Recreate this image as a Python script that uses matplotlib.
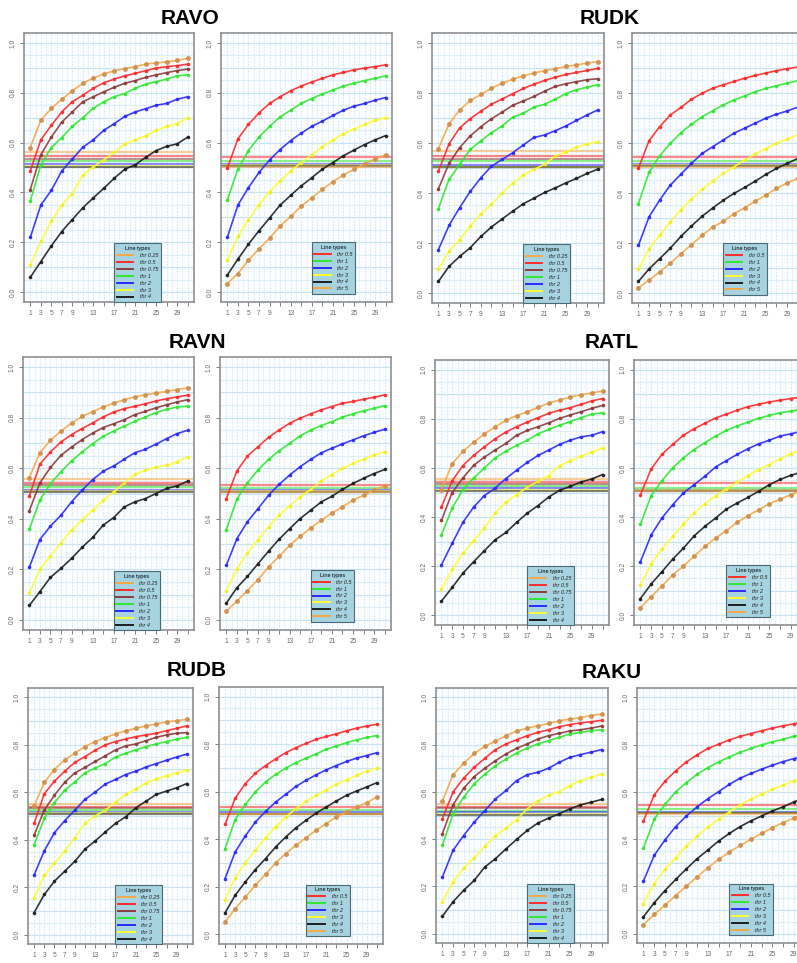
import matplotlib
matplotlib.use("Agg")
import matplotlib.pyplot as plt
from matplotlib.lines import Line2D

plt.rcParams['font.family'] = ['Liberation Sans', 'DejaVu Sans']

W, H = 797, 963

# sampling points (number of cycles)
steps = list(range(1, 32, 2))
tick_text = {1: "1", 3: "3", 5: "5", 7: "7", 9: "9", 13: "13", 17: "17",
             21: "21", 25: "25", 29: "29"}

labels_low = ["thr 0.25", "thr 0.5", "thr 0.75", "thr 1", "thr 2", "thr 3", "thr 4"]
labels_high = ["thr 0.5", "thr 1", "thr 2", "thr 3", "thr 4", "thr 5"]

ORANGE, RED, BROWN = "#f7a845", "#ff2a2a", "#8e3b3b"
GREEN, BLUE, YELLOW, BLACK = "#2fe82f", "#2a2aff", "#ffff30", "#1e1e1e"
colors_low = [ORANGE, RED, BROWN, GREEN, BLUE, YELLOW, BLACK]
colors_high = [RED, GREEN, BLUE, YELLOW, BLACK, ORANGE]

# ---- RAVO ----
ravo_low = [
    [0.58, 0.69, 0.737, 0.774, 0.808, 0.838, 0.859, 0.876, 0.888, 0.897, 0.905, 0.915, 0.92, 0.924, 0.93, 0.938],
    [0.486, 0.611, 0.669, 0.723, 0.764, 0.79, 0.818, 0.84, 0.855, 0.868, 0.878, 0.889, 0.899, 0.905, 0.909, 0.915],
    [0.411, 0.551, 0.622, 0.682, 0.723, 0.764, 0.784, 0.804, 0.822, 0.838, 0.849, 0.862, 0.872, 0.881, 0.889, 0.895],
    [0.365, 0.51, 0.58, 0.62, 0.665, 0.70, 0.737, 0.764, 0.784, 0.797, 0.818, 0.835, 0.845, 0.855, 0.868, 0.872],
    [0.219, 0.349, 0.408, 0.486, 0.534, 0.581, 0.611, 0.649, 0.676, 0.705, 0.723, 0.736, 0.75, 0.757, 0.774, 0.784],
    [0.108, 0.203, 0.284, 0.349, 0.395, 0.47, 0.503, 0.53, 0.561, 0.595, 0.611, 0.628, 0.649, 0.665, 0.676, 0.70],
    [0.059, 0.122, 0.185, 0.243, 0.291, 0.338, 0.378, 0.416, 0.457, 0.493, 0.511, 0.541, 0.568, 0.585, 0.595, 0.622],
]
ravo_low_ref = [0.562, 0.547, 0.535, 0.527, 0.515, 0.506, 0.503]
ravo_high = [
    [0.497, 0.615, 0.673, 0.719, 0.757, 0.784, 0.808, 0.827, 0.843, 0.858, 0.872, 0.882, 0.892, 0.899, 0.905, 0.912],
    [0.37, 0.493, 0.568, 0.622, 0.665, 0.703, 0.73, 0.757, 0.777, 0.795, 0.811, 0.827, 0.838, 0.849, 0.858, 0.868],
    [0.219, 0.349, 0.419, 0.48, 0.53, 0.572, 0.608, 0.638, 0.665, 0.686, 0.709, 0.73, 0.746, 0.757, 0.77, 0.781],
    [0.128, 0.223, 0.29, 0.351, 0.403, 0.446, 0.486, 0.52, 0.551, 0.584, 0.611, 0.635, 0.655, 0.673, 0.689, 0.70],
    [0.068, 0.132, 0.192, 0.246, 0.297, 0.349, 0.388, 0.426, 0.459, 0.493, 0.52, 0.547, 0.57, 0.592, 0.611, 0.628],
    [0.034, 0.074, 0.128, 0.173, 0.216, 0.264, 0.304, 0.345, 0.378, 0.412, 0.443, 0.47, 0.493, 0.514, 0.534, 0.551],
]
ravo_high_ref = [0.543, 0.527, 0.516, 0.511, 0.507, 0.504]

# ---- RUDK ----
rudk_low = [
    [0.576, 0.676, 0.732, 0.77, 0.794, 0.819, 0.839, 0.855, 0.869, 0.88, 0.889, 0.897, 0.906, 0.912, 0.92, 0.925],
    [0.487, 0.596, 0.66, 0.697, 0.727, 0.755, 0.776, 0.797, 0.818, 0.835, 0.85, 0.863, 0.874, 0.882, 0.89, 0.898],
    [0.416, 0.518, 0.581, 0.628, 0.665, 0.697, 0.723, 0.751, 0.768, 0.786, 0.807, 0.826, 0.837, 0.845, 0.853, 0.857],
    [0.337, 0.454, 0.514, 0.574, 0.609, 0.641, 0.668, 0.703, 0.719, 0.743, 0.755, 0.775, 0.797, 0.813, 0.823, 0.833],
    [0.173, 0.27, 0.341, 0.406, 0.461, 0.507, 0.534, 0.561, 0.592, 0.622, 0.632, 0.649, 0.668, 0.69, 0.712, 0.732],
    [0.096, 0.167, 0.213, 0.268, 0.317, 0.355, 0.40, 0.44, 0.471, 0.494, 0.515, 0.547, 0.565, 0.582, 0.596, 0.605],
    [0.046, 0.106, 0.146, 0.181, 0.226, 0.264, 0.296, 0.327, 0.357, 0.379, 0.402, 0.42, 0.44, 0.458, 0.478, 0.495],
]
rudk_low_ref = [0.569, 0.549, 0.537, 0.527, 0.513, 0.505, 0.502]
rudk_high = [
    [0.498, 0.609, 0.665, 0.712, 0.742, 0.775, 0.799, 0.819, 0.833, 0.846, 0.859, 0.87, 0.88, 0.889, 0.897, 0.904],
    [0.357, 0.482, 0.548, 0.598, 0.641, 0.675, 0.705, 0.729, 0.752, 0.772, 0.788, 0.805, 0.818, 0.829, 0.839, 0.849],
    [0.19, 0.304, 0.371, 0.431, 0.475, 0.518, 0.558, 0.585, 0.612, 0.639, 0.659, 0.679, 0.699, 0.715, 0.728, 0.743],
    [0.094, 0.177, 0.23, 0.284, 0.333, 0.375, 0.414, 0.448, 0.478, 0.505, 0.531, 0.556, 0.577, 0.599, 0.616, 0.632],
    [0.046, 0.096, 0.137, 0.179, 0.226, 0.268, 0.307, 0.34, 0.371, 0.398, 0.422, 0.447, 0.474, 0.498, 0.518, 0.538],
    [0.02, 0.052, 0.083, 0.119, 0.157, 0.193, 0.23, 0.264, 0.286, 0.317, 0.341, 0.367, 0.391, 0.418, 0.44, 0.458],
]
rudk_high_ref = [0.545, 0.527, 0.515, 0.51, 0.506, 0.504]

# ---- RAVN ----
ravn_low = [
    [0.563, 0.661, 0.711, 0.747, 0.779, 0.805, 0.824, 0.842, 0.858, 0.871, 0.882, 0.891, 0.897, 0.904, 0.911, 0.918],
    [0.489, 0.616, 0.664, 0.704, 0.733, 0.757, 0.779, 0.803, 0.822, 0.836, 0.845, 0.855, 0.866, 0.875, 0.882, 0.889],
    [0.432, 0.542, 0.603, 0.651, 0.684, 0.713, 0.739, 0.761, 0.776, 0.792, 0.812, 0.825, 0.839, 0.851, 0.862, 0.871],
    [0.358, 0.474, 0.539, 0.586, 0.629, 0.664, 0.697, 0.726, 0.747, 0.766, 0.786, 0.803, 0.82, 0.833, 0.842, 0.845],
    [0.208, 0.318, 0.371, 0.414, 0.467, 0.513, 0.555, 0.588, 0.609, 0.636, 0.661, 0.675, 0.695, 0.717, 0.737, 0.75],
    [0.105, 0.20, 0.253, 0.305, 0.355, 0.395, 0.434, 0.474, 0.507, 0.542, 0.576, 0.592, 0.605, 0.611, 0.625, 0.645],
    [0.057, 0.112, 0.168, 0.204, 0.243, 0.287, 0.326, 0.375, 0.405, 0.447, 0.467, 0.48, 0.50, 0.52, 0.53, 0.549],
]
ravn_low_ref = [0.559, 0.54, 0.535, 0.525, 0.515, 0.508, 0.506]
ravn_high = [
    [0.48, 0.589, 0.648, 0.685, 0.722, 0.751, 0.778, 0.798, 0.815, 0.831, 0.844, 0.857, 0.864, 0.873, 0.881, 0.89],
    [0.357, 0.478, 0.542, 0.593, 0.635, 0.669, 0.698, 0.728, 0.751, 0.769, 0.784, 0.802, 0.815, 0.827, 0.837, 0.847],
    [0.216, 0.321, 0.388, 0.44, 0.493, 0.536, 0.573, 0.606, 0.635, 0.661, 0.679, 0.696, 0.712, 0.728, 0.742, 0.754],
    [0.116, 0.202, 0.265, 0.317, 0.368, 0.414, 0.451, 0.487, 0.516, 0.549, 0.575, 0.599, 0.619, 0.635, 0.652, 0.665],
    [0.066, 0.127, 0.172, 0.222, 0.272, 0.319, 0.361, 0.401, 0.434, 0.467, 0.489, 0.516, 0.54, 0.56, 0.579, 0.595],
    [0.034, 0.074, 0.116, 0.159, 0.209, 0.251, 0.295, 0.331, 0.364, 0.394, 0.423, 0.447, 0.474, 0.493, 0.513, 0.53],
]
ravn_high_ref = [0.533, 0.52, 0.512, 0.509, 0.507, 0.506]

# ---- RATL ----
ratl_low = [
    [0.512, 0.617, 0.668, 0.705, 0.739, 0.767, 0.795, 0.813, 0.829, 0.847, 0.864, 0.877, 0.889, 0.898, 0.906, 0.913],
    [0.441, 0.548, 0.61, 0.651, 0.686, 0.719, 0.746, 0.768, 0.787, 0.805, 0.823, 0.835, 0.846, 0.859, 0.873, 0.883],
    [0.386, 0.50, 0.559, 0.611, 0.644, 0.673, 0.70, 0.733, 0.753, 0.768, 0.784, 0.802, 0.816, 0.829, 0.843, 0.855],
    [0.327, 0.437, 0.512, 0.559, 0.60, 0.641, 0.668, 0.692, 0.713, 0.739, 0.757, 0.774, 0.789, 0.805, 0.819, 0.825],
    [0.205, 0.293, 0.378, 0.441, 0.487, 0.518, 0.557, 0.591, 0.623, 0.651, 0.673, 0.696, 0.713, 0.727, 0.733, 0.748],
    [0.105, 0.187, 0.252, 0.304, 0.355, 0.416, 0.46, 0.491, 0.521, 0.546, 0.569, 0.61, 0.63, 0.648, 0.664, 0.682],
    [0.057, 0.113, 0.171, 0.218, 0.263, 0.307, 0.337, 0.378, 0.416, 0.447, 0.482, 0.509, 0.525, 0.543, 0.555, 0.573],
]
ratl_low_ref = [0.555, 0.543, 0.535, 0.525, 0.518, 0.512, 0.508]
ratl_high = [
    [0.491, 0.596, 0.655, 0.696, 0.733, 0.76, 0.782, 0.804, 0.819, 0.835, 0.85, 0.859, 0.869, 0.876, 0.883, 0.889],
    [0.371, 0.487, 0.548, 0.60, 0.641, 0.675, 0.703, 0.73, 0.753, 0.771, 0.787, 0.802, 0.814, 0.825, 0.832, 0.839],
    [0.218, 0.327, 0.396, 0.45, 0.498, 0.532, 0.566, 0.604, 0.63, 0.655, 0.678, 0.698, 0.713, 0.73, 0.739, 0.75],
    [0.123, 0.209, 0.269, 0.321, 0.371, 0.416, 0.454, 0.487, 0.514, 0.542, 0.569, 0.593, 0.614, 0.637, 0.658, 0.675],
    [0.068, 0.127, 0.177, 0.228, 0.273, 0.323, 0.362, 0.396, 0.432, 0.457, 0.48, 0.505, 0.532, 0.553, 0.57, 0.583],
    [0.031, 0.075, 0.119, 0.164, 0.20, 0.241, 0.28, 0.314, 0.345, 0.378, 0.405, 0.43, 0.454, 0.473, 0.491, 0.509],
]
ratl_high_ref = [0.539, 0.52, 0.512, 0.509, 0.506, 0.505]

# ---- RUDB ----
rudb_low = [
    [0.542, 0.642, 0.696, 0.737, 0.765, 0.793, 0.814, 0.831, 0.846, 0.86, 0.87, 0.88, 0.888, 0.897, 0.902, 0.908],
    [0.469, 0.594, 0.647, 0.689, 0.726, 0.751, 0.777, 0.80, 0.814, 0.825, 0.835, 0.842, 0.849, 0.86, 0.87, 0.88],
    [0.419, 0.525, 0.588, 0.642, 0.682, 0.705, 0.73, 0.754, 0.779, 0.796, 0.804, 0.818, 0.832, 0.842, 0.849, 0.852],
    [0.378, 0.49, 0.556, 0.609, 0.644, 0.682, 0.703, 0.721, 0.749, 0.765, 0.779, 0.793, 0.804, 0.814, 0.824, 0.832],
    [0.251, 0.353, 0.43, 0.48, 0.525, 0.57, 0.601, 0.635, 0.654, 0.675, 0.689, 0.707, 0.721, 0.735, 0.749, 0.761],
    [0.154, 0.249, 0.302, 0.353, 0.409, 0.469, 0.50, 0.525, 0.559, 0.591, 0.615, 0.64, 0.656, 0.67, 0.682, 0.693],
    [0.092, 0.169, 0.225, 0.267, 0.309, 0.36, 0.395, 0.433, 0.469, 0.497, 0.535, 0.563, 0.591, 0.605, 0.619, 0.637],
]
rudb_low_ref = [0.549, 0.538, 0.532, 0.525, 0.518, 0.511, 0.507]
rudb_high = [
    [0.463, 0.573, 0.634, 0.678, 0.71, 0.738, 0.764, 0.785, 0.803, 0.82, 0.832, 0.843, 0.856, 0.867, 0.876, 0.883],
    [0.361, 0.483, 0.547, 0.599, 0.641, 0.673, 0.699, 0.722, 0.741, 0.759, 0.778, 0.792, 0.806, 0.818, 0.828, 0.836],
    [0.235, 0.347, 0.414, 0.473, 0.517, 0.557, 0.589, 0.622, 0.648, 0.671, 0.692, 0.71, 0.727, 0.741, 0.752, 0.764],
    [0.147, 0.238, 0.301, 0.354, 0.407, 0.452, 0.494, 0.529, 0.559, 0.585, 0.608, 0.631, 0.65, 0.669, 0.685, 0.699],
    [0.091, 0.165, 0.221, 0.273, 0.319, 0.368, 0.41, 0.448, 0.48, 0.51, 0.536, 0.561, 0.585, 0.603, 0.62, 0.638],
    [0.053, 0.109, 0.158, 0.207, 0.253, 0.301, 0.34, 0.375, 0.407, 0.438, 0.466, 0.494, 0.515, 0.536, 0.554, 0.578],
]
rudb_high_ref = [0.536, 0.522, 0.514, 0.508, 0.507, 0.506]

# ---- RAKU ----
raku_low = [
    [0.561, 0.672, 0.721, 0.763, 0.793, 0.815, 0.838, 0.858, 0.87, 0.88, 0.89, 0.901, 0.908, 0.915, 0.923, 0.93],
    [0.486, 0.599, 0.658, 0.704, 0.742, 0.779, 0.803, 0.821, 0.838, 0.852, 0.863, 0.876, 0.885, 0.892, 0.897, 0.903],
    [0.423, 0.545, 0.615, 0.665, 0.70, 0.732, 0.761, 0.785, 0.803, 0.824, 0.838, 0.848, 0.858, 0.863, 0.87, 0.879],
    [0.373, 0.507, 0.577, 0.634, 0.675, 0.711, 0.739, 0.765, 0.786, 0.803, 0.817, 0.831, 0.845, 0.852, 0.859, 0.863],
    [0.239, 0.352, 0.415, 0.472, 0.521, 0.57, 0.606, 0.648, 0.673, 0.683, 0.70, 0.725, 0.746, 0.758, 0.768, 0.779],
    [0.134, 0.218, 0.277, 0.32, 0.37, 0.415, 0.446, 0.483, 0.528, 0.563, 0.585, 0.601, 0.627, 0.648, 0.662, 0.676],
    [0.073, 0.134, 0.183, 0.225, 0.282, 0.317, 0.359, 0.399, 0.437, 0.468, 0.489, 0.507, 0.528, 0.545, 0.556, 0.568],
]
raku_low_ref = [0.549, 0.535, 0.53, 0.521, 0.514, 0.508, 0.503]
raku_high = [
    [0.477, 0.587, 0.645, 0.689, 0.727, 0.757, 0.784, 0.802, 0.82, 0.835, 0.847, 0.859, 0.87, 0.88, 0.888, 0.897],
    [0.361, 0.484, 0.547, 0.60, 0.639, 0.675, 0.703, 0.727, 0.748, 0.767, 0.784, 0.799, 0.812, 0.823, 0.835, 0.844],
    [0.222, 0.331, 0.396, 0.453, 0.498, 0.537, 0.571, 0.601, 0.632, 0.658, 0.678, 0.696, 0.713, 0.728, 0.741, 0.752],
    [0.127, 0.212, 0.272, 0.321, 0.371, 0.413, 0.451, 0.484, 0.515, 0.545, 0.569, 0.59, 0.611, 0.629, 0.646, 0.661],
    [0.071, 0.13, 0.182, 0.229, 0.274, 0.317, 0.354, 0.392, 0.424, 0.453, 0.477, 0.498, 0.519, 0.537, 0.557, 0.576],
    [0.038, 0.081, 0.12, 0.161, 0.201, 0.24, 0.279, 0.314, 0.345, 0.373, 0.399, 0.424, 0.448, 0.47, 0.489, 0.509],
]
raku_high_ref = [0.543, 0.526, 0.515, 0.511, 0.509, 0.507]

# group title, position of title, panel boxes in pixels (left, top, right, bottom)
groups = [
    ("RAVO", (190, 18), (24, 33, 194, 302), (221, 33, 392, 302),
     ravo_low, ravo_low_ref, ravo_high, ravo_high_ref),
    ("RUDK", (610, 18), (432, 33, 604, 303), (632, 33, 804, 303),
     rudk_low, rudk_low_ref, rudk_high, rudk_high_ref),
    ("RAVN", (197, 342), (23, 357, 194, 630), (220, 357, 391, 630),
     ravn_low, ravn_low_ref, ravn_high, ravn_high_ref),
    ("RATL", (612, 342), (435, 360, 609, 625), (634, 360, 808, 625),
     ratl_low, ratl_low_ref, ratl_high, ratl_high_ref),
    ("RUDB", (197, 670), (28, 688, 193, 944), (219, 687, 383, 944),
     rudb_low, rudb_low_ref, rudb_high, rudb_high_ref),
    ("RAKU", (612, 672), (436, 688, 608, 943), (637, 688, 811, 943),
     raku_low, raku_low_ref, raku_high, raku_high_ref),
]

fig = plt.figure(figsize=(W / 100, H / 100), dpi=100)
fig.patch.set_facecolor("white")

GRID_MAJOR = "#c6e3f2"
GRID_MINOR = "#dfeff8"
FRAME = "#8f8f8f"
TICK_COLOR = "#6a6a6a"


def marker_color(c):
    if c == ORANGE:
        return "#cf8f4c"
    if c == YELLOW:
        return "#f0f020"
    return c


def draw_panel(box, series, refs, labels, colors):
    l, t, r, b = box
    ax = fig.add_axes([l / W, 1 - b / H, (r - l) / W, (b - t) / H])
    ax.set_facecolor("#fbfdff")
    ax.set_xlim(-0.2, 32.2)
    ax.set_ylim(-0.04, 1.04)

    # light blue background grid
    for k in range(0, 21):
        yv = k * 0.05
        ax.axhline(yv, color=GRID_MAJOR if k % 2 == 0 else GRID_MINOR,
                   lw=0.8, zorder=0)
    for xv in steps:
        ax.axvline(xv, color=GRID_MAJOR, lw=0.6, ls=(0, (2, 2)), zorder=0)
    for xv in range(2, 32, 2):
        ax.axvline(xv, color=GRID_MINOR, lw=0.5, zorder=0)

    # reference levels
    for yv, c in zip(refs, colors):
        ax.axhline(yv, color=c, lw=1.6, alpha=0.55, zorder=1)

    # curves
    for ys, c in zip(series, colors):
        big = c == ORANGE
        ax.plot(steps, ys, color=c, lw=1.2, alpha=0.9, zorder=3,
                marker="o", ms=2.5 if big else 1.6,
                mfc=marker_color(c), mec=marker_color(c))

    for s in ax.spines.values():
        s.set_color(FRAME)
        s.set_linewidth(1.2)

    ax.set_xticks(steps)
    ax.set_xticklabels([tick_text.get(v, "") for v in steps])
    ax.set_yticks([0.0, 0.2, 0.4, 0.6, 0.8, 1.0])
    ax.set_yticklabels(["0.0", "0.2", "0.4", "0.6", "0.8", "1.0"],
                       rotation=90, va="center")
    ax.tick_params(axis="both", colors=TICK_COLOR, labelsize=4.8,
                   length=3, width=0.6, pad=2.5)

    handles = [Line2D([0], [0], color=c, lw=1.4) for c in colors]
    leg = ax.legend(handles, labels, title="Line types", loc="lower left",
                    bbox_to_anchor=(0.53, 0.0 if len(labels) == 7 else 0.03),
                    fontsize=4.0, title_fontsize=4.0, frameon=True,
                    fancybox=False, framealpha=1.0, facecolor="#a7d3e0",
                    edgecolor="#4a6a74", handlelength=3.0, handletextpad=1.2,
                    labelspacing=0.35, borderpad=0.45, borderaxespad=0.0)
    leg.get_frame().set_linewidth(0.8)
    for txt in leg.get_texts():
        txt.set_fontstyle("italic")
        txt.set_color("#222222")
    leg.set_zorder(5)
    return ax


for (name, (tx, ty), box_low, box_high,
     s_low, r_low, s_high, r_high) in groups:
    fig.text(tx / W, 1 - ty / H, name, ha="center", va="center",
             fontsize=15, fontweight="bold", color="black")
    draw_panel(box_low, s_low, r_low, labels_low, colors_low)
    draw_panel(box_high, s_high, r_high, labels_high, colors_high)

fig.savefig("out.png", dpi=100)
